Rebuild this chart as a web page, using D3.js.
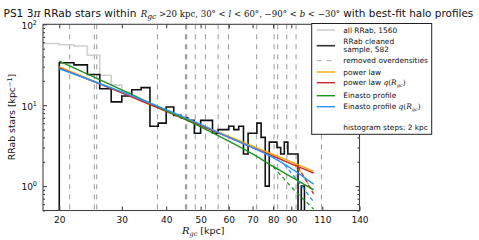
<!DOCTYPE html>
<html><head><meta charset="utf-8">
<script src="https://cdn.jsdelivr.net/npm/d3@7"></script>
<style>
body{margin:0;background:#fff;}
svg{display:block;}
text{font-family:"DejaVu Sans",sans-serif;fill:#111;}
.m{font-family:"DejaVu Serif","Liberation Serif",serif;}
</style></head>
<body><svg id="c" width="479" height="240"></svg>
<script>
// ---- data ----
const binWidth = 2;
const cleanStart = [20,22,24,26,28,30,32,34,36,38,40,42,44,46,48,50,52,54,56,58,60,62,64,66,68,70,72,74,76,78,80,82,84,86,88,90,92,94,96,98];
const cleanValues = [33.5,31.5,24,16,11,13,15.5,16.5,5.5,6,9.5,7.5,7,6.5,4.5,6.5,6.5,4.5,5,5,5.5,5,5.5,2.5,4.5,4.5,6,4,1,3.5,3.5,3,2.5,3.5,2.5,2.5,2.5,0,1,0];
const allStart = [18,20,22,24,26,28,30];
const allValues = [58,56,54,41.5,23.5,17.7,14.5];
const overdensityR = [21.4,25.1,25.5,37.8,45.3,45.5,45.7,48.3,51.6,56.0,59.9,71.9,80.5,82.4,87.4,92.8,109.4];
const fitR = [20,30,40,50,60,70,80,90,104];
const powerLaw = [29.8,14.4,8.56,5.72,4.11,3.12,2.46,1.99,1.53];
const powerLawQ = [29.0,14.2,8.4,5.6,4.0,3.0,2.35,1.88,1.45];
const einasto = [35,15.5,8.6,5.4,3.6,2.5,1.75,1.3,0.9];
const einastoQ = [28.3,14.6,8.8,5.8,4.0,3.0,2.25,1.65,1.06];
const powerLawDashR = [92,104], powerLawDash = [1.92,0.85];
const powerLawQDashR = [94,104], powerLawQDash = [1.75,0.8];
const einastoDashR = [80,89,104], einastoDash = [1.75,1.03,0.52];
const einastoQDashR = [86,95,104], einastoQDash = [1.85,1.08,0.64];
const xTicks = [20,30,40,50,60,70,80,90,110,140];
const yMajor = [1,10,100];
const yMinor = [0.5,0.6,0.7,0.8,0.9,2,3,4,5,6,7,8,9,20,30,40,50,60,70,80,90];

const svg = d3.select("#c");
const L=43,R=359.5,T=24.3,B=210.5;
const x = d3.scaleLog().domain([18,140]).range([L,R]);
const y = d3.scaleLog().domain([0.5,100]).range([B,T]);
const yv = v => v<=0 ? B+20 : y(v);

svg.append("defs").append("clipPath").attr("id","pc").append("rect")
  .attr("x",L).attr("y",T).attr("width",R-L).attr("height",B-T);
const g = svg.append("g").attr("clip-path","url(#pc)");

// overdensity lines
g.selectAll("line.od").data(overdensityR).enter().append("line")
  .attr("x1",d=>x(d)).attr("x2",d=>x(d)).attr("y1",T).attr("y2",B)
  .attr("stroke","#9a9a9a").attr("stroke-width",1).attr("stroke-dasharray","5,5");

function histPts(starts, vals, startFromBottom, endToBottom){
  const pts=[];
  if(startFromBottom) pts.push([x(starts[0]),B+20]);
  starts.forEach((s,i)=>{pts.push([x(s),yv(vals[i])]);pts.push([x(s+binWidth),yv(vals[i])]);});
  if(endToBottom) pts.push([x(starts[starts.length-1]+binWidth),B+20]);
  return pts;
}
const lineP = d3.line();
g.append("path").attr("d",lineP(histPts(allStart,allValues,false,false)))
  .attr("fill","none").attr("stroke","#cfcfcf").attr("stroke-width",1.6);
g.append("path").attr("d",lineP(histPts(cleanStart,cleanValues,true,true)))
  .attr("fill","none").attr("stroke","#111").attr("stroke-width",1.6);

const curve = d3.line().x(d=>x(d[0])).y(d=>y(d[1])).curve(d3.curveMonotoneX);
const fits = [
  {r:fitR,v:powerLaw,c:"#ffa500"},
  {r:fitR,v:powerLawQ,c:"#c62828"},
  {r:fitR,v:einasto,c:"#1d941d"},
  {r:fitR,v:einastoQ,c:"#2b95ff"}];
const dashes = [
  {r:powerLawDashR,v:powerLawDash,c:"#ffa500"},
  {r:powerLawQDashR,v:powerLawQDash,c:"#c62828"},
  {r:einastoDashR,v:einastoDash,c:"#1d941d"},
  {r:einastoQDashR,v:einastoQDash,c:"#2b95ff"}];
dashes.forEach(f=>{
  g.append("path").attr("d",curve(f.r.map((r,i)=>[r,f.v[i]])))
   .attr("fill","none").attr("stroke",f.c).attr("stroke-width",1.3).attr("stroke-dasharray","4,3");
});
fits.forEach(f=>{
  g.append("path").attr("d",curve(f.r.map((r,i)=>[r,f.v[i]])))
   .attr("fill","none").attr("stroke",f.c).attr("stroke-width",1.4);
});

// axes
const ax = svg.append("g");
ax.append("g").attr("transform",`translate(0,${B})`)
  .call(d3.axisBottom(x).tickValues(xTicks).tickFormat(d3.format("d")).tickSizeInner(-4).tickSizeOuter(0).tickPadding(6.5));
ax.append("g").attr("transform",`translate(0,${T})`)
  .call(d3.axisTop(x).tickValues(xTicks).tickFormat("").tickSizeInner(-4).tickSizeOuter(0));
ax.append("g").attr("transform",`translate(${L},0)`)
  .call(d3.axisLeft(y).tickValues(yMajor).tickFormat("").tickSizeInner(-4).tickSizeOuter(0));
ax.append("g").attr("transform",`translate(${L},0)`)
  .call(d3.axisLeft(y).tickValues(yMinor).tickFormat("").tickSizeInner(-2).tickSizeOuter(0));
ax.append("g").attr("transform",`translate(${R},0)`)
  .call(d3.axisRight(y).tickValues(yMajor).tickFormat("").tickSizeInner(-4).tickSizeOuter(0));
ax.append("g").attr("transform",`translate(${R},0)`)
  .call(d3.axisRight(y).tickValues(yMinor).tickFormat("").tickSizeInner(-2).tickSizeOuter(0));
ax.selectAll(".domain").remove();
ax.selectAll(".tick line").attr("stroke","#333");
ax.selectAll(".tick text").attr("font-size","9px").attr("font-family","DejaVu Sans").attr("fill","#111");
svg.append("rect").attr("x",L).attr("y",T).attr("width",R-L).attr("height",B-T)
  .attr("fill","none").attr("stroke","#444").attr("stroke-width",1.1);

// y tick labels 10^n
yMajor.forEach(v=>{
  const t = svg.append("text").attr("x",37).attr("y",y(v)+4.3).attr("text-anchor","end").attr("font-size","9px");
  t.append("tspan").text("10");
  t.append("tspan").attr("dy",-4).attr("font-size","6.5px").text(Math.round(Math.log10(v)));
});

function ts(sel,txt,cls,it,fs,dy){const s=sel.append("tspan").text(txt); if(cls)s.attr("class",cls); if(it)s.attr("font-style","italic"); if(fs)s.attr("font-size",fs); if(dy)s.attr("dy",dy); return s;}
function fitWidth(sel, fs, target){ const w = sel.node().getComputedTextLength(); sel.attr("font-size",(fs*target/w)+"px"); }

// axis labels
const xl = svg.append("text").attr("x",182).attr("y",233.5).attr("font-size","9.5px");
ts(xl,"R","m",true,"10px");
ts(xl,"gc","m",true,"6.5px",2);
ts(xl," [kpc]",null,false,null,-2);

const yl = svg.append("text").attr("transform","translate(15,117) rotate(-90)").attr("text-anchor","middle").attr("font-size","9.3px");
yl.append("tspan").text("RRab stars [kpc");
yl.append("tspan").attr("dy",-3.5).attr("font-size","6.5px").text("−1");
yl.append("tspan").attr("dy",3.5).text("]");

// title in three pieces, each sized to span the width seen in the reference
const ta = svg.append("text").attr("x",3.5).attr("y",16.5).attr("font-size","11px");
ts(ta,"PS1 3");
ts(ta,"π","m",true);
ts(ta," RRab stars within");
fitWidth(ta, 11, 136.5-3.5);
const tb = svg.append("text").attr("x",140.7).attr("y",16.5).attr("font-size","11px");
ts(tb,"R","m",true);
ts(tb,"gc","m",true,"7.5px",2.5);
ts(tb," >20 kpc, 30° < ","m",false,null,-2.5);
ts(tb,"l","m",true);
ts(tb," < 60°, −90° < ","m");
ts(tb,"b","m",true);
ts(tb," < −30°","m");
fitWidth(tb, 11, 338.5-140.7);
const tc = svg.append("text").attr("x",343.3).attr("y",16.5).attr("font-size","11px");
ts(tc,"with best-fit halo profiles");
fitWidth(tc, 11, 473.5-343.3);

// legend
const lg = svg.append("g");
lg.append("rect").attr("x",311.7).attr("y",23.5).attr("width",120).attr("height",110.8)
  .attr("fill","#fff").attr("stroke","#222").attr("stroke-width",1);
const items = [
  {y:30,c:"#cfcfcf",lw:1.6,da:null,txt:[["all RRab, 1560"]]},
  {y:45.7,c:"#333",lw:1.6,da:null,txt:[["RRab cleaned"]],txt2:"sample, 582"},
  {y:60.7,c:"#aaa",lw:1,da:"5,5",txt:[["removed overdensities"]]},
  {y:72,c:"#ffa500",lw:1.4,txt:[["power law "]]},
  {y:82.7,c:"#c62828",lw:1.4,txt:[["power law "],["q","m",true],["(","m"],["R","m",true],["gc","m",true,"5px",1.5],[")","m",false,null,-1.5]]},
  {y:95.7,c:"#1d941d",lw:1.4,txt:[["Einasto profile"]]},
  {y:106.7,c:"#2b95ff",lw:1.4,txt:[["Einasto profile "],["q","m",true],["(","m"],["R","m",true],["gc","m",true,"5px",1.5],[")","m",false,null,-1.5]]}
];
items.forEach(it=>{
  lg.append("line").attr("x1",316.7).attr("x2",335).attr("y1",it.y).attr("y2",it.y)
    .attr("stroke",it.c).attr("stroke-width",it.lw).attr("stroke-dasharray",it.da);
  if(it.txt2){
    lg.append("text").attr("x",343.3).attr("y",43.6).attr("font-size","7.4px").text(it.txt[0][0]);
    lg.append("text").attr("x",343.3).attr("y",52.2).attr("font-size","7.4px").text(it.txt2);
  } else {
    const t = lg.append("text").attr("x",343.3).attr("y",it.y+2.6).attr("font-size","7.4px");
    it.txt.forEach(p=>ts(t,p[0],p[1],p[2],p[3],p[4]));
  }
});
lg.append("text").attr("x",343.3).attr("y",130.3).attr("font-size","7.4px").text("histogram steps: 2 kpc");
</script></body></html>
